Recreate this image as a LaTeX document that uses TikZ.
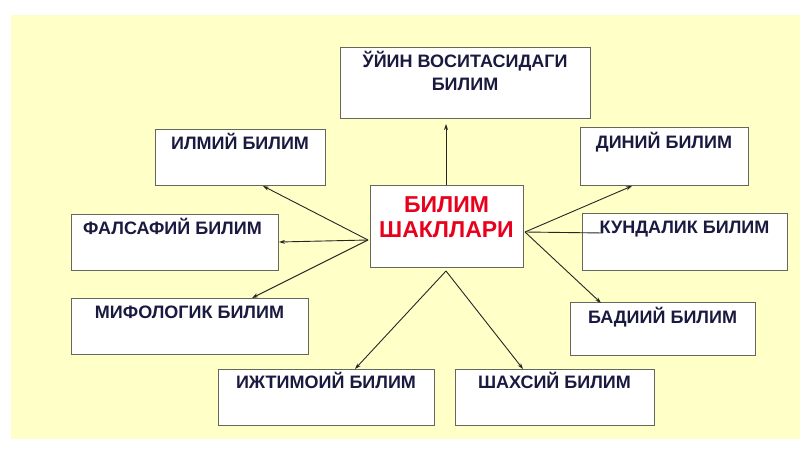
\documentclass[tikz,border=0pt]{standalone}
\usepackage{fontspec}
\setmainfont{Liberation Sans}
\usetikzlibrary{arrows.meta,calc}
\definecolor{bgyellow}{HTML}{FFFFC8}
\definecolor{boxgray}{HTML}{66665A}
\definecolor{navy}{HTML}{1A1A40}
\definecolor{hotred}{HTML}{E8001C}
\begin{document}
\begin{tikzpicture}[x=1pt,y=-1pt,
  box/.style={draw=boxgray,fill=white,line width=1pt,inner sep=0pt},
  lbl/.style={anchor=base,inner sep=0pt,text=navy,align=center,font=\bfseries\fontsize{18}{23}\selectfont},
  ctr/.style={anchor=base,inner sep=0pt,text=hotred,align=center,font=\bfseries\fontsize{23}{25}\selectfont},
  arr/.style={draw=black!85,line width=0.9pt,-{Stealth[length=6pt,width=4pt]}}]
\useasboundingbox (0,0) rectangle (800,449);
\fill[bgyellow] (11,15) rectangle (800,439);

% boxes
\node[box,minimum width=250pt,minimum height=71pt] (ujin) at (465,83.5) {};
\node[box,minimum width=170pt,minimum height=56pt] (ilmiy) at (240,158) {};
\node[box,minimum width=168pt,minimum height=58pt] (diniy) at (664,157) {};
\node[box,minimum width=207pt,minimum height=56pt] (falsafiy) at (174.5,242) {};
\node[box,minimum width=205pt,minimum height=57pt] (kundalik) at (684.5,241.5) {};
\node[box,minimum width=153pt,minimum height=81pt] (center) at (446.5,226.5) {};
\node[box,minimum width=237pt,minimum height=56pt] (mifologik) at (189.5,326) {};
\node[box,minimum width=185pt,minimum height=53pt] (badiiy) at (662.5,328.5) {};
\node[box,minimum width=216pt,minimum height=56pt] (ijtimoiy) at (326,397) {};
\node[box,minimum width=199pt,minimum height=56pt] (shaxsiy) at (554.5,397) {};

% texts (base = baseline of last line)
\node[lbl] (ujinT) at ($(ujin.north)+(0,43)$) {ЎЙИН ВОСИТАСИДАГИ\\БИЛИМ};
\node[lbl] (ilmiyT) at ($(ilmiy.north)+(0,20)$) {ИЛМИЙ БИЛИМ};
\node[lbl] (diniyT) at ($(diniy.north)+(0,21)$) {ДИНИЙ БИЛИМ};
\node[lbl] (falsafiyT) at ($(falsafiy.north)+(-2,21)$) {ФАЛСАФИЙ БИЛИМ};
\node[lbl] (kundalikT) at ($(kundalik.north)+(0,21)$) {КУНДАЛИК БИЛИМ};
\node[ctr] (centerT) at ($(center.north)+(0,52)$) {БИЛИМ\\ШАКЛЛАРИ};
\node[lbl] (mifologikT) at ($(mifologik.north)+(0,21)$) {МИФОЛОГИК БИЛИМ};
\node[lbl] (badiiyT) at ($(badiiy.north)+(0,22)$) {БАДИИЙ БИЛИМ};
\node[lbl] (ijtimoiyT) at ($(ijtimoiy.north)+(0,20)$) {ИЖТИМОИЙ БИЛИМ};
\node[lbl] (shaxsiyT) at ($(shaxsiy.north)+(0,20)$) {ШАХСИЙ БИЛИМ};

% connector points
\coordinate (L) at (368,240);
\coordinate (R) at (525,232);
\coordinate (B) at (446,271);
\coordinate (eU) at (446,124);
\coordinate (eI) at (263,186);
\coordinate (eF) at (279,242);
\coordinate (eM) at (252,298);
\coordinate (eD) at (632,186);
\coordinate (eK) at (603,233);
\coordinate (eB) at (601,303);
\coordinate (eJ) at (355,369);
\coordinate (eS) at (523,369);

\draw[arr] (center.north -| eU) -- (eU);
\draw[arr] (L) -- (eI);
\draw[arr] (L) -- (eF);
\draw[arr] (L) -- (eM);
\draw[arr] (R) -- (eD);
\draw[draw=black!85,line width=0.9pt] (R) -- (eK);
\draw[arr] (R) -- (eB);
\draw[arr] (B) -- (eJ);
\draw[arr] (B) -- (eS);
\end{tikzpicture}
\end{document}
